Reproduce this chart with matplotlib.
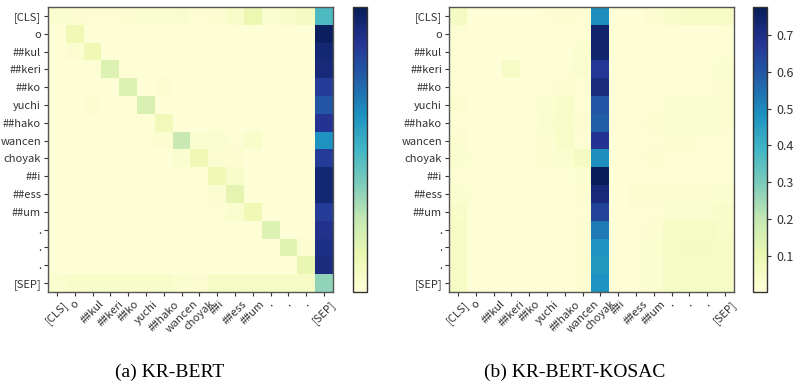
import numpy as np
import matplotlib
matplotlib.use("Agg")
import matplotlib.pyplot as plt

# tokens (rows = query, cols = key)
tokens = ["[CLS]", "o", "##kul", "##keri", "##ko", "yuchi", "##hako", "wancen",
          "choyak", "##i", "##ess", "##um", ".", ".", ".", "[SEP]"]

# (a) KR-BERT attention
attn_kr = [
    [0.03, 0.025, 0.02, 0.02, 0.025, 0.03, 0.03, 0.035, 0.02, 0.025, 0.04, 0.10, 0.03, 0.04, 0.06, 0.37],
    [0.01, 0.09, 0.015, 0.01, 0.01, 0.01, 0.01, 0.01, 0.01, 0.01, 0.01, 0.01, 0.01, 0.01, 0.01, 0.76],
    [0.01, 0.025, 0.09, 0.01, 0.01, 0.01, 0.01, 0.01, 0.01, 0.01, 0.01, 0.01, 0.01, 0.01, 0.01, 0.73],
    [0.01, 0.01, 0.02, 0.14, 0.01, 0.01, 0.01, 0.01, 0.01, 0.01, 0.01, 0.01, 0.01, 0.01, 0.01, 0.72],
    [0.01, 0.01, 0.01, 0.015, 0.14, 0.01, 0.025, 0.015, 0.01, 0.01, 0.015, 0.01, 0.01, 0.01, 0.01, 0.66],
    [0.01, 0.015, 0.025, 0.015, 0.01, 0.15, 0.01, 0.01, 0.02, 0.01, 0.015, 0.015, 0.01, 0.01, 0.01, 0.60],
    [0.01, 0.01, 0.01, 0.01, 0.02, 0.01, 0.08, 0.01, 0.01, 0.02, 0.015, 0.01, 0.01, 0.01, 0.01, 0.68],
    [0.01, 0.01, 0.015, 0.015, 0.02, 0.02, 0.025, 0.19, 0.03, 0.035, 0.02, 0.04, 0.01, 0.01, 0.01, 0.48],
    [0.01, 0.01, 0.01, 0.01, 0.015, 0.015, 0.015, 0.03, 0.09, 0.025, 0.025, 0.015, 0.01, 0.01, 0.01, 0.66],
    [0.01, 0.01, 0.01, 0.01, 0.01, 0.01, 0.01, 0.01, 0.015, 0.09, 0.04, 0.01, 0.01, 0.01, 0.01, 0.73],
    [0.01, 0.01, 0.015, 0.015, 0.01, 0.01, 0.01, 0.01, 0.01, 0.025, 0.12, 0.01, 0.01, 0.01, 0.01, 0.73],
    [0.01, 0.01, 0.01, 0.015, 0.02, 0.015, 0.01, 0.01, 0.01, 0.02, 0.035, 0.09, 0.015, 0.01, 0.01, 0.66],
    [0.01, 0.01, 0.01, 0.01, 0.01, 0.01, 0.01, 0.01, 0.01, 0.01, 0.01, 0.015, 0.14, 0.01, 0.01, 0.69],
    [0.01, 0.01, 0.01, 0.01, 0.01, 0.01, 0.01, 0.01, 0.01, 0.01, 0.01, 0.01, 0.01, 0.13, 0.025, 0.70],
    [0.01, 0.01, 0.01, 0.01, 0.01, 0.01, 0.01, 0.01, 0.01, 0.01, 0.01, 0.01, 0.01, 0.015, 0.11, 0.71],
    [0.03, 0.04, 0.045, 0.045, 0.04, 0.04, 0.045, 0.03, 0.025, 0.05, 0.05, 0.05, 0.05, 0.05, 0.05, 0.27],
]

# (b) KR-BERT-KOSAC attention
attn_kosac = [
    [0.06, 0.01, 0.01, 0.01, 0.015, 0.02, 0.025, 0.02, 0.49, 0.01, 0.015, 0.025, 0.04, 0.05, 0.05, 0.05],
    [0.02, 0.015, 0.01, 0.01, 0.01, 0.015, 0.015, 0.02, 0.74, 0.01, 0.01, 0.01, 0.01, 0.01, 0.015, 0.02],
    [0.02, 0.02, 0.015, 0.01, 0.01, 0.01, 0.015, 0.03, 0.74, 0.01, 0.01, 0.01, 0.01, 0.015, 0.015, 0.02],
    [0.02, 0.015, 0.01, 0.05, 0.01, 0.01, 0.02, 0.035, 0.67, 0.01, 0.01, 0.01, 0.01, 0.02, 0.02, 0.03],
    [0.02, 0.015, 0.01, 0.01, 0.02, 0.02, 0.025, 0.02, 0.71, 0.01, 0.015, 0.015, 0.02, 0.02, 0.02, 0.025],
    [0.025, 0.015, 0.01, 0.01, 0.02, 0.03, 0.04, 0.02, 0.60, 0.01, 0.02, 0.02, 0.03, 0.035, 0.03, 0.025],
    [0.02, 0.015, 0.01, 0.01, 0.02, 0.035, 0.045, 0.025, 0.58, 0.01, 0.02, 0.025, 0.035, 0.03, 0.03, 0.025],
    [0.025, 0.015, 0.01, 0.01, 0.02, 0.025, 0.04, 0.02, 0.68, 0.01, 0.02, 0.02, 0.025, 0.025, 0.02, 0.02],
    [0.03, 0.02, 0.015, 0.015, 0.02, 0.025, 0.03, 0.06, 0.49, 0.015, 0.02, 0.025, 0.02, 0.02, 0.02, 0.02],
    [0.02, 0.015, 0.01, 0.01, 0.015, 0.02, 0.02, 0.03, 0.77, 0.01, 0.015, 0.015, 0.015, 0.015, 0.015, 0.02],
    [0.03, 0.02, 0.015, 0.01, 0.015, 0.02, 0.02, 0.025, 0.72, 0.01, 0.025, 0.025, 0.025, 0.025, 0.025, 0.03],
    [0.04, 0.015, 0.01, 0.01, 0.015, 0.02, 0.02, 0.02, 0.64, 0.01, 0.02, 0.02, 0.03, 0.035, 0.035, 0.04],
    [0.05, 0.015, 0.01, 0.01, 0.015, 0.02, 0.02, 0.025, 0.53, 0.01, 0.02, 0.025, 0.05, 0.05, 0.05, 0.045],
    [0.05, 0.015, 0.01, 0.01, 0.015, 0.02, 0.02, 0.025, 0.48, 0.01, 0.02, 0.03, 0.055, 0.06, 0.06, 0.05],
    [0.05, 0.015, 0.01, 0.01, 0.015, 0.02, 0.02, 0.025, 0.47, 0.01, 0.02, 0.03, 0.05, 0.055, 0.055, 0.05],
    [0.055, 0.015, 0.01, 0.01, 0.015, 0.02, 0.02, 0.025, 0.48, 0.01, 0.02, 0.03, 0.05, 0.055, 0.055, 0.05],
]

captions = ["(a) KR-BERT", "(b) KR-BERT-KOSAC"]

plt.rcParams['font.family'] = ['Noto Sans CJK KR', 'DejaVu Sans']

W, H = 793, 391
fig = plt.figure(figsize=(W / 100, H / 100), dpi=100)


def box(x0, y0, x1, y1):
    return [x0 / W, 1 - y1 / H, (x1 - x0) / W, (y1 - y0) / H]


panels = [
    (attn_kr, box(48, 7, 333, 292), box(353, 7, 367, 292), False, 170),
    (attn_kosac, box(449, 7, 734, 292), box(753, 7, 767, 292), True, 575),
]

for (mat, ax_box, cb_box, show_ticks, cap_x), cap in zip(panels, captions):
    ax = fig.add_axes(ax_box)
    im = ax.imshow(np.array(mat), cmap="YlGnBu", vmin=0.003, vmax=0.775,
                   aspect="auto", interpolation="nearest")
    n = len(tokens)
    ax.set_xticks(range(n))
    ax.set_yticks(range(n))
    ax.set_xticklabels(tokens, rotation=45, fontsize=8)
    ax.set_yticklabels(tokens, fontsize=8)
    ax.tick_params(length=3, width=0.8, colors="#333333", pad=2)
    for s in ax.spines.values():
        s.set_color("#555555")
        s.set_linewidth(1.0)

    cax = fig.add_axes(cb_box)
    cb = fig.colorbar(im, cax=cax)
    cb.outline.set_edgecolor("#333333")
    cb.outline.set_linewidth(1.0)
    if show_ticks:
        cb.set_ticks([0.1, 0.2, 0.3, 0.4, 0.5, 0.6, 0.7])
        cax.tick_params(labelsize=9, length=3, colors="#333333")
    else:
        cb.set_ticks([])

    fig.text(cap_x / W, 1 - 372 / H, cap, ha="center", va="center",
             fontsize=14, family="Liberation Serif")

fig.savefig("out.png", dpi=100)
